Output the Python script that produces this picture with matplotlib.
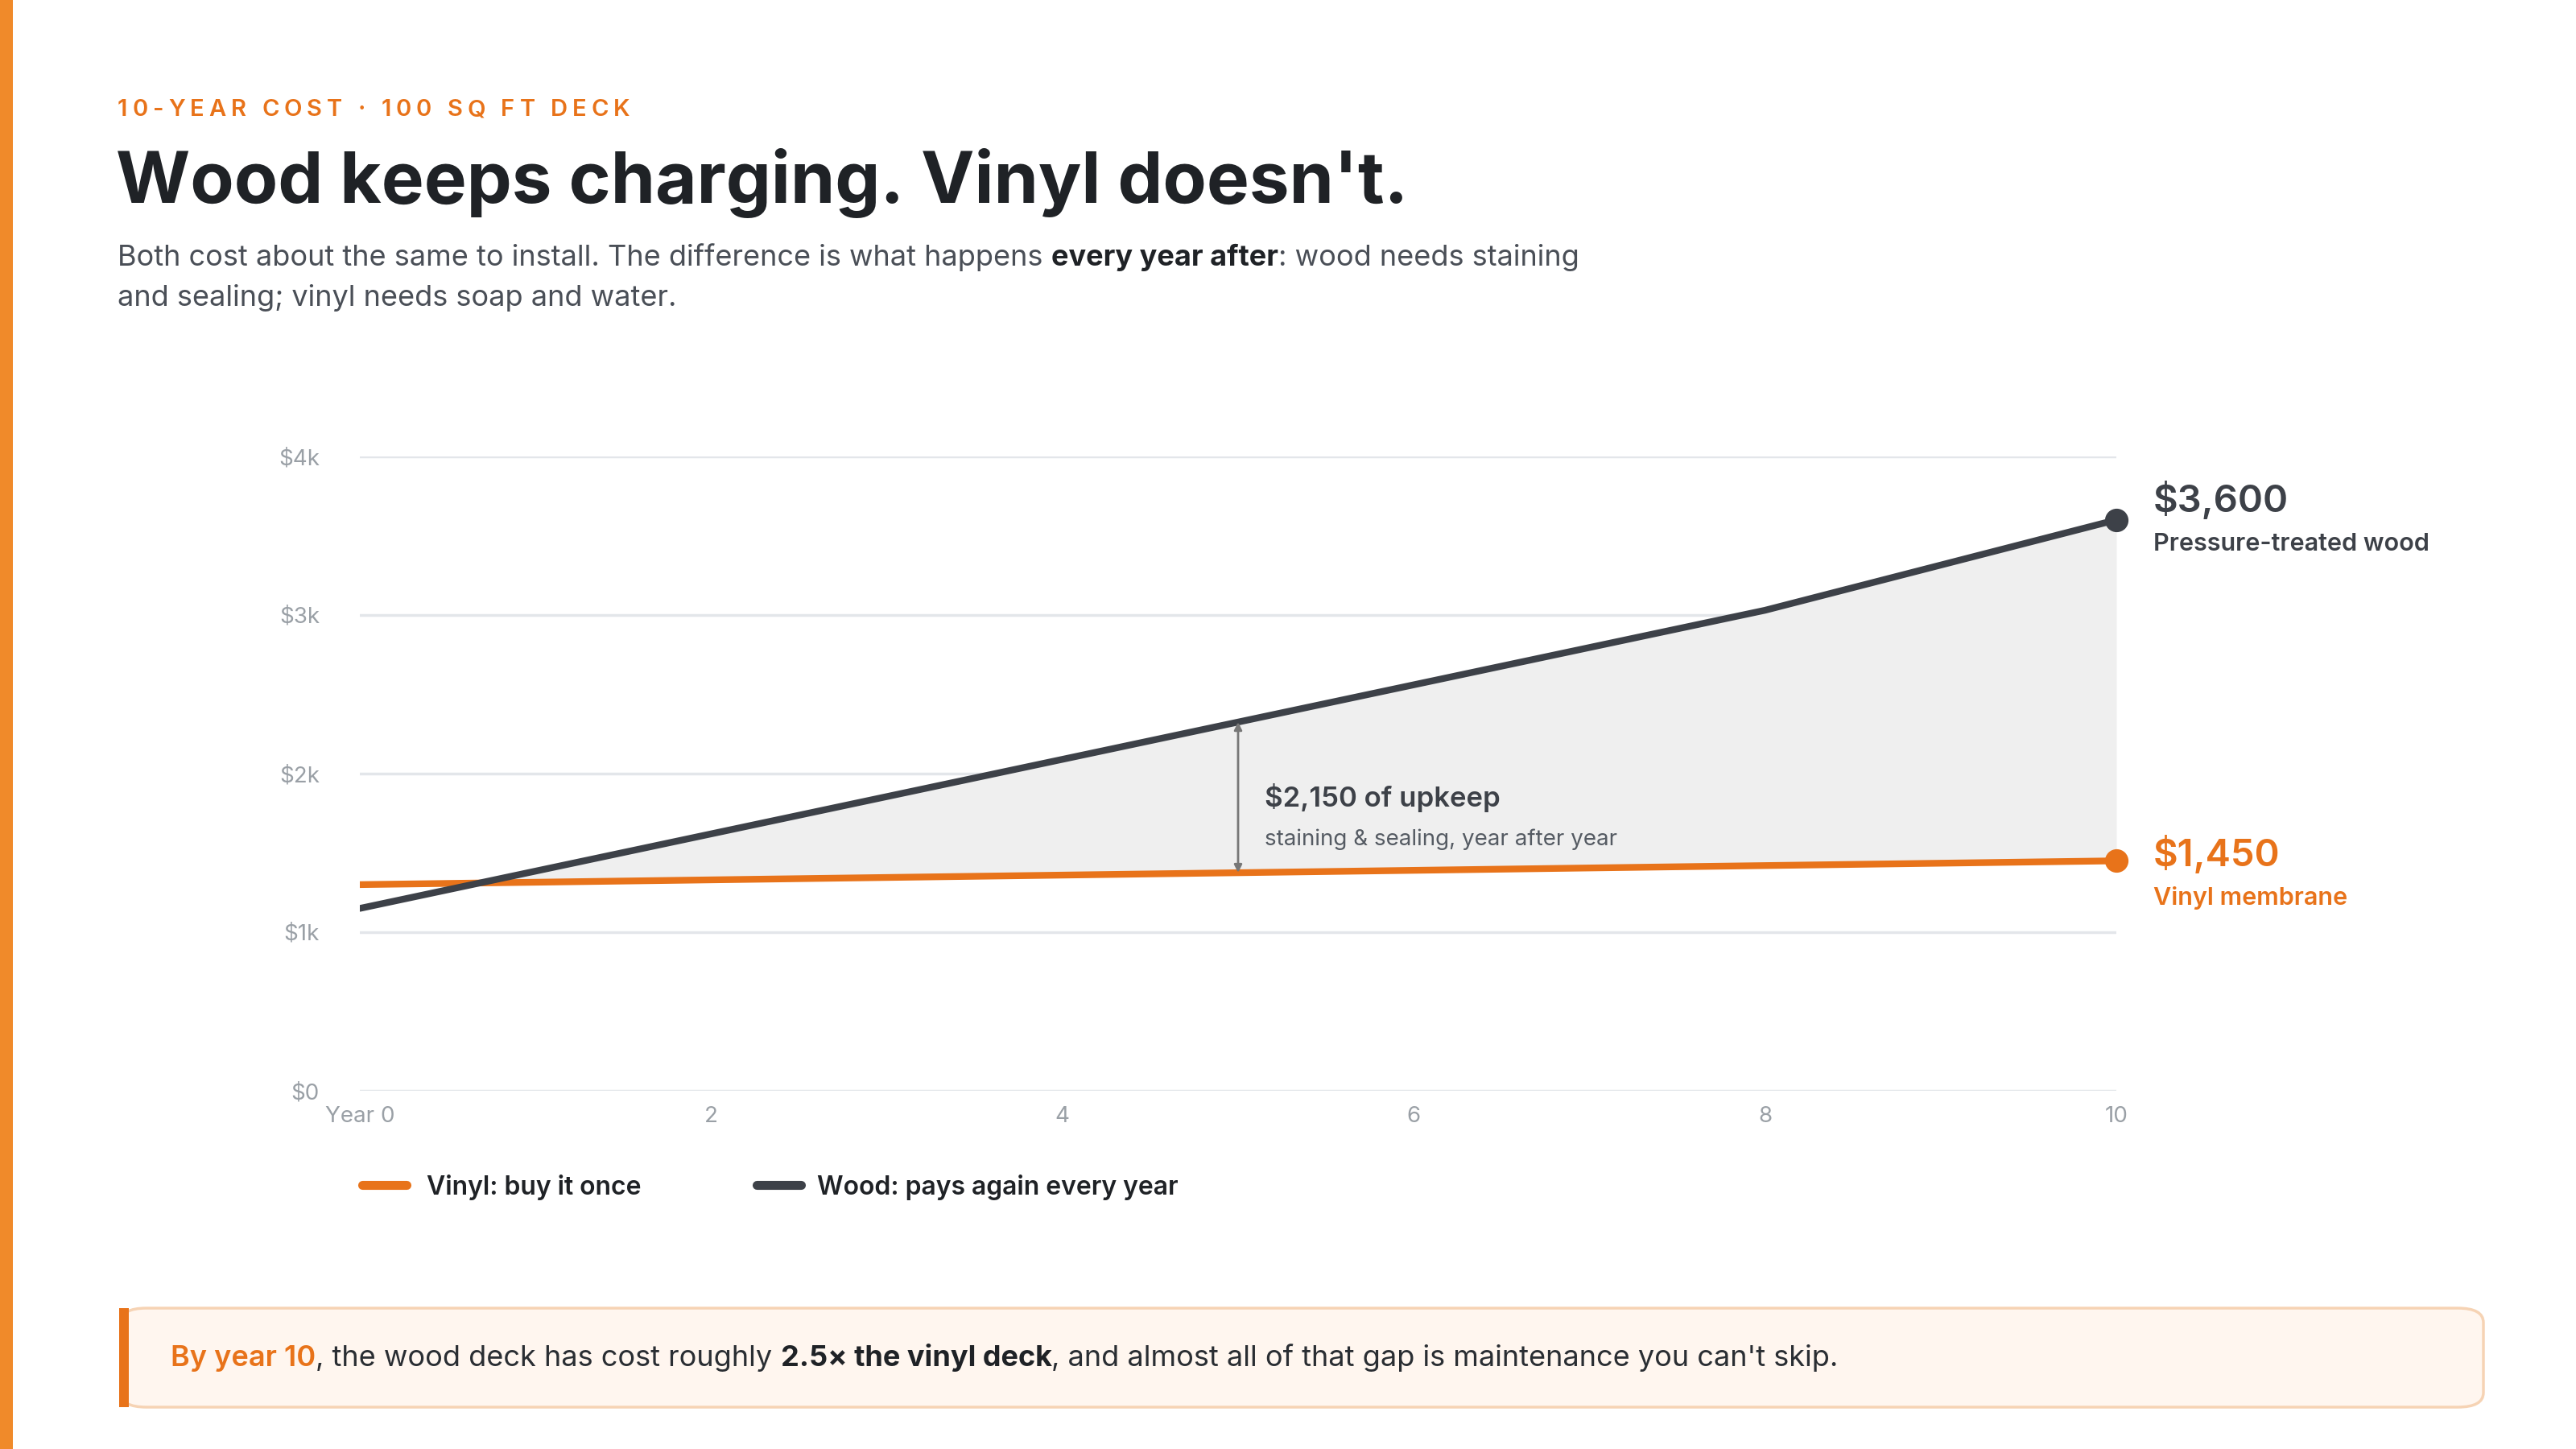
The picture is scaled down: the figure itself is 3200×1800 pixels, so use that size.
import matplotlib
matplotlib.use("Agg")
import matplotlib.pyplot as plt
from matplotlib.patches import FancyBboxPatch, Rectangle
from matplotlib.lines import Line2D

years = [0, 1, 2, 3, 4, 5, 6, 7, 8, 9, 10]
wood = [1150, 1385, 1620, 1855, 2090, 2325, 2560, 2795, 3030, 3315, 3600]
vinyl = [1300, 1315, 1330, 1345, 1360, 1375, 1390, 1405, 1420, 1435, 1450]
yticks = [0, 1000, 2000, 3000, 4000]
ytick_labels = ["$0", "$1k", "$2k", "$3k", "$4k"]
xticks = [0, 2, 4, 6, 8, 10]
xtick_labels = ["Year 0", "2", "4", "6", "8", "10"]

ORANGE = "#E8731A"
DARK = "#3D4148"
GRAY = "#9AA0A6"
TEXT = "#4A4F57"
FONT = "Inter"
plt.rcParams["font.family"] = [FONT, "DejaVu Sans"]

W, H = 3200, 1800
fig = plt.figure(figsize=(32, 18), dpi=100)
fig.patch.set_facecolor("white")
fig.add_artist(Rectangle((0, 0), 16 / W, 1, transform=fig.transFigure, color="#F08A2A", lw=0))

renderer = fig.canvas.get_renderer()

def runs(x_px, y_px, parts, size, spacing=0.0):
    """parts: list of (text, weight, color); x_px,y_px in pixels from top-left (baseline)."""
    x = x_px
    for txt, weight, color in parts:
        chunks = list(txt) if spacing else [txt]
        for c in chunks:
            t = fig.text(x / W, 1 - y_px / H, c, fontsize=size, fontweight=weight,
                         color=color, va="baseline", ha="left")
            bb = t.get_window_extent(renderer)
            x += bb.width + spacing
    return x

# header
runs(146, 144, [("10-YEAR COST · 100 SQ FT DECK", "semibold", ORANGE)], 21, spacing=6)
runs(144, 252, [("Wood keeps charging. Vinyl doesn't.", "bold", "#1F2226")], 64)
runs(146, 330, [("Both cost about the same to install. The difference is what happens ", "normal", TEXT),
                ("every year after", "bold", "#1F2226"),
                (": wood needs staining", "normal", TEXT)], 26)
runs(146, 380, [("and sealing; vinyl needs soap and water.", "normal", TEXT)], 26)

# axes
ax = fig.add_axes([447 / W, 1 - 1355 / H, (2629 - 447) / W, (1355 - 567) / H])
ax.set_xlim(0, 10)
ax.set_ylim(0, 4000)
for s in ax.spines.values():
    s.set_visible(False)
ax.set_yticks(yticks)
ax.set_yticklabels(ytick_labels)
ax.set_xticks(xticks)
ax.set_xticklabels(xtick_labels)
ax.tick_params(length=0, labelsize=20, labelcolor=GRAY, pad=14)
ax.tick_params(axis="y", pad=36)
ax.grid(axis="y", color="#E3E6EA", lw=2.5)
ax.set_axisbelow(True)

ax.fill_between(years, vinyl, wood, where=[w >= v for w, v in zip(wood, vinyl)],
                interpolate=True, color="#EFEFEF", lw=0, zorder=1)
ax.plot(years, vinyl, color=ORANGE, lw=6, solid_capstyle="round", zorder=3)
ax.plot(years, wood, color=DARK, lw=6, solid_capstyle="round", zorder=4)
ax.plot([10], [wood[-1]], "o", color=DARK, ms=20, zorder=5, clip_on=False)
ax.plot([10], [vinyl[-1]], "o", color=ORANGE, ms=20, zorder=5, clip_on=False)

ax.annotate("", xy=(5, wood[5]), xytext=(5, vinyl[5]),
            arrowprops=dict(arrowstyle="<|-|>", color="#777", lw=2, mutation_scale=14,
                            shrinkA=0, shrinkB=0), zorder=6)
ax.text(5.15, 1790, "$2,150 of upkeep", fontsize=25, fontweight="semibold", color=DARK, va="baseline")
ax.text(5.15, 1550, "staining & sealing, year after year", fontsize=20, color="#555B63", va="baseline")

# end labels
runs(2675, 636, [("$3,600", "semibold", DARK)], 34)
runs(2675, 684, [("Pressure-treated wood", "semibold", DARK)], 22)
runs(2675, 1076, [("$1,450", "semibold", ORANGE)], 34)
runs(2675, 1124, [("Vinyl membrane", "semibold", ORANGE)], 22)

# legend
ly = 1 - 1472 / H
fig.add_artist(Line2D([450 / W, 505 / W], [ly, ly], color=ORANGE, lw=8, solid_capstyle="round"))
runs(530, 1484, [("Vinyl: buy it once", "semibold", "#1F2226")], 23)
fig.add_artist(Line2D([940 / W, 995 / W], [ly, ly], color=DARK, lw=8, solid_capstyle="round"))
runs(1015, 1484, [("Wood: pays again every year", "semibold", "#1F2226")], 23)

# callout
box = FancyBboxPatch((150 / W, 1 - 1748 / H), (3085 - 150) / W, (1748 - 1625) / H,
                     boxstyle="round,pad=0,rounding_size=0.01", transform=fig.transFigure,
                     facecolor="#FFF6EF", edgecolor="#F6D3B4", lw=2.5)
fig.add_artist(box)
fig.add_artist(Rectangle((148 / W, 1 - 1748 / H), 12 / W, (1748 - 1625) / H,
                         transform=fig.transFigure, color=ORANGE, lw=0))
runs(212, 1697, [("By year 10", "semibold", ORANGE),
                 (", the wood deck has cost roughly ", "normal", "#2A2E33"),
                 ("2.5× the vinyl deck", "bold", "#1F2226"),
                 (", and almost all of that gap is maintenance you can't skip.", "normal", "#2A2E33")], 26)

fig.savefig("out.png", dpi=100, facecolor="white")
